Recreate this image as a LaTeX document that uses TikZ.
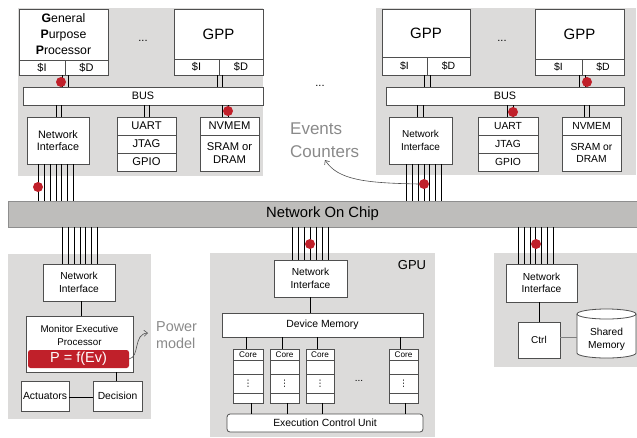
\documentclass[tikz,border=0pt]{standalone}
\usepackage{fontspec}
\setmainfont{Liberation Sans}
\newfontfamily\dejavu{DejaVu Sans}
\usetikzlibrary{fit,arrows.meta}
\definecolor{panelgray}{HTML}{DCDBDA}
\definecolor{nocgray}{HTML}{BEBDBB}
\definecolor{nocedge}{HTML}{8E8E8E}
\definecolor{edgegray}{HTML}{4F4F4F}
\definecolor{dotred}{HTML}{C0202A}
\definecolor{labelgray}{HTML}{8A8A8A}
\newcommand\fs[2]{\fontsize{#1}{#2}\selectfont}
\newcommand\bx[7][]{\node[box,minimum width={#5pt-#3pt},minimum height={#6pt-#4pt},#1] (#2) at ({(#3+#5)/2},{(#4+#6)/2}) {#7};}
\newcommand\vw[3]{\draw[wire] (#1,0 |- #2) -- (#1,0 |- #3);}
\tikzset{
  panel/.style={fill=panelgray, draw=none, inner sep=0pt, outer sep=0pt},
  box/.style={draw=edgegray, fill=white, line width=0.8pt, inner sep=0pt, outer sep=0pt, align=center, font=\fs{10.5}{12.5}},
  dotmark/.style={circle, fill=dotred, inner sep=0pt, minimum size=10pt},
  wire/.style={line width=0.8pt, black},
  graylabel/.style={text=labelgray, align=left, anchor=west, inner sep=0pt},
  curvearrow/.style={line width=0.6pt, edgegray, -{Straight Barb[length=3.5pt,width=6pt]}},
}
\begin{document}
\begin{tikzpicture}[x=1pt,y=-1pt]
\useasboundingbox (0,0) rectangle (637,437);
% panels
\node[panel, fit={(18,8)(263,176)}] (p1) {};
\node[panel, fit={(376,8)(636,175)}] (p2) {};
\node[panel, fit={(8,254)(151,419)}] (p3) {};
\node[panel, fit={(210,253)(435,437)}] (p4) {};
\node[panel, fit={(494,253)(637,367)}] (p5) {};
% ---------- top-left cluster
\bx[font=\fs{12.3}{16}]{gpp1}{19}{9}{108}{60}{\textbf{G}eneral\\\textbf{P}urpose\\\textbf{P}rocessor}
\bx[font=\fs{11}{13}]{c1i}{19}{60}{65}{75}{\$I}
\bx[font=\fs{11}{13}]{c1d}{65}{60}{108}{75}{\$D}
\bx[font=\fs{15}{17}]{gpp2}{174}{9}{263}{59}{GPP}
\bx[font=\fs{11}{13}]{c2i}{174}{59}{219}{75}{\$I}
\bx[font=\fs{11}{13}]{c2d}{219}{59}{263}{75}{\$D}
\node[font=\fs{11}{13}] (dots1) at (143,41) {...};
\bx[font=\fs{10.8}{13}]{bus1}{23}{87}{263}{105}{BUS}
\bx[font=\fs{10.8}{12.5}]{ni1}{27}{117}{89}{164}{Network\\Interface}
\bx[font=\fs{11.2}{13}]{uart1}{117}{117}{176}{135}{UART}
\bx[font=\fs{11.2}{13}]{jtag1}{117}{135}{176}{153}{JTAG}
\bx[font=\fs{11.2}{13}]{gpio1}{117}{153}{176}{171}{GPIO}
\bx[font=\fs{11.2}{13}]{nvm1}{200}{117}{259}{135}{NVMEM}
\bx[font=\fs{11.2}{12.5}]{sram1}{200}{135}{259}{171}{SRAM or\\DRAM}
\vw{62}{c1i.south}{bus1.north}
\vw{68}{c1d.south}{bus1.north}
\vw{217}{c2i.south}{bus1.north}
\vw{222}{c2d.south}{bus1.north}
\vw{56}{bus1.south}{ni1.north}
\vw{61}{bus1.south}{ni1.north}
\vw{144}{bus1.south}{uart1.north}
\vw{149}{bus1.south}{uart1.north}
\vw{222}{bus1.south}{nvm1.north}
\vw{228}{bus1.south}{nvm1.north}
% ---------- top-right cluster
\bx[font=\fs{15}{17}]{gpp3}{382}{9}{470}{57}{GPP}
\bx[font=\fs{10.5}{13}]{c3i}{382}{57}{427}{75}{\$I}
\bx[font=\fs{10.5}{13}]{c3d}{427}{57}{470}{75}{\$D}
\bx[font=\fs{15}{17}]{gpp4}{535}{9}{624}{59}{GPP}
\bx[font=\fs{10.5}{13}]{c4i}{535}{59}{582}{75}{\$I}
\bx[font=\fs{10.5}{13}]{c4d}{582}{59}{624}{75}{\$D}
\node[font=\fs{11}{13}] (dots2) at (502,41) {...};
\bx[font=\fs{10.8}{13}]{bus2}{386}{87}{624}{105}{BUS}
\bx[font=\fs{10}{12.5}]{ni2}{389}{117}{452}{164}{Network\\Interface}
\bx[font=\fs{10.3}{13}]{uart2}{478}{117}{538}{135}{UART}
\bx[font=\fs{10.3}{13}]{jtag2}{478}{135}{538}{153}{JTAG}
\bx[font=\fs{10.3}{13}]{gpio2}{478}{153}{538}{171}{GPIO}
\bx[font=\fs{10.3}{13}]{nvm2}{562}{117}{621}{135}{NVMEM}
\bx[font=\fs{10.3}{12.5}]{sram2}{562}{135}{621}{171}{SRAM or\\DRAM}
\vw{424}{c3i.south}{bus2.north}
\vw{430}{c3d.south}{bus2.north}
\vw{579}{c4d.south}{bus2.north}
\vw{585}{c4d.south}{bus2.north}
\vw{417}{bus2.south}{ni2.north}
\vw{423}{bus2.south}{ni2.north}
\vw{507}{bus2.south}{uart2.north}
\vw{513}{bus2.south}{uart2.north}
\vw{584}{bus2.south}{nvm2.north}
\vw{589}{bus2.south}{nvm2.north}
\node[font=\fs{11}{13}] (dots3) at (320,86) {...};
% ---------- network on chip
\bx[fill=nocgray, draw=nocedge, font=\fs{14.8}{16}]{noc}{8}{201}{637}{227}{Network On Chip}
\foreach \x in {38,44,50,56,61,67,73} {\vw{\x}{ni1.south}{noc.north}}
\foreach \x in {406,412,418,424,429,435,441} {\vw{\x}{ni2.south}{noc.north}}
% ---------- bottom-left: monitor
\bx[font=\fs{10.2}{12.5}]{ni3}{43}{264}{115}{301}{Network\\Interface}
\bx{mep}{26}{316}{133}{372}{}
\node[font=\fs{9.8}{13}, align=center] (meptxt) at (79.5,335) {Monitor Executive\\Processor};
\bx[fill=dotred, draw=none, rounded corners=2.5pt, text=white, font=\fs{14.5}{16}]{pf}{28}{350}{129}{368}{P = f(Ev)}
\bx[font=\fs{10.4}{12}]{act}{21}{381}{69}{411}{Actuators}
\bx[font=\fs{10.3}{12}]{dec}{93}{381}{142}{411}{Decision}
\foreach \x in {62,68,74,80,85,91,97} {\vw{\x}{noc.south}{ni3.north}}
\vw{81}{ni3.south}{mep.north}
\vw{116}{mep.south}{dec.north}
\draw[wire] (act.east |- 0,397) -- (dec.west |- 0,397);
\node[graylabel, font=\fs{14.4}{17}] (pm) at (156,335.5) {Power\\model};
\coordinate (pmtip) at (148,333);
\draw[curvearrow] (pf.east) .. controls (140,357) and (133,334) .. (pmtip);
% ---------- GPU
\bx[font=\fs{10.2}{12.5}]{ni4}{274}{260}{347}{297}{Network\\Interface}
\node[font=\fs{13}{15}] (gpul) at (412,265) {GPU};
\foreach \x in {292,298,304,310,316,322,328} {\vw{\x}{noc.south}{ni4.north}}
\bx[font=\fs{10.4}{12}]{devmem}{222}{313}{423}{337}{Device Memory}
\vw{310}{ni4.south}{devmem.north}
\foreach \n/\l/\r/\xa/\xb in {1/233/263/246/251, 2/270/299/282/287, 3/306/334/317/322, 4/389/418/400/405} {
  \bx[font=\fs{8.2}{10}]{k\n-a}{\l}{349}{\r}{360}{Core}
  \bx{k\n-b}{\l}{360}{\r}{374}{}
  \bx[font=\dejavu\fs{9}{10}]{k\n-c}{\l}{374}{\r}{393}{⋮}
  \bx{k\n-d}{\l}{393}{\r}{403}{}
  \vw{\xa}{devmem.south}{k\n-a.north}
}
\node[font=\fs{10}{12}] (dots4) at (359,381) {...};
\bx[rounded corners=3pt, font=\fs{10.4}{12}]{ecu}{227}{414}{423}{432}{Execution Control Unit}
\vw{251}{k1-d.south}{ecu.north}
\vw{287}{k2-d.south}{ecu.north}
\vw{322}{k3-d.south}{ecu.north}
\vw{405}{k4-d.south}{ecu.north}
% ---------- shared memory
\bx[font=\fs{10.2}{12.5}]{ni5}{506}{264}{577}{302}{Network\\Interface}
\foreach \x in {518,524,530,535,541,547,553} {\vw{\x}{noc.south}{ni5.north}}
\bx[font=\fs{10}{12}]{ctrl}{518}{322}{560}{358}{Ctrl}
\vw{539}{ni5.south}{ctrl.north}
\filldraw[fill=white, draw=edgegray, line width=0.8pt] (577,314) -- (577,353) arc[start angle=180, end angle=360, x radius=29.5pt, y radius=5pt] -- (636,314) arc[start angle=0, end angle=180, x radius=29.5pt, y radius=5pt] -- cycle;
\draw[edgegray, line width=0.8pt] (577,314) arc[start angle=180, end angle=360, x radius=29.5pt, y radius=5pt];
\bx[draw=none, fill=none, font=\fs{10.2}{13}]{shm}{577}{315}{636}{364}{Shared\\Memory}
\draw[line width=1pt, gray] (ctrl.east |- 0,337) -- (shm.west |- 0,337);
% ---------- events counters
\node[graylabel, font=\fs{17}{23}] (ev) at (290,140) {Events\\Counters};
% ---------- probes (red dots)
\node[dotmark] (d1) at (61,82) {};
\node[dotmark] (d2) at (228,111) {};
\node[dotmark] (d3) at (38,187) {};
\node[dotmark] (d4) at (587,82) {};
\node[dotmark] (d5) at (513,112) {};
\node[dotmark] (d6) at (424,184) {};
\node[dotmark] (d7) at (310,244) {};
\node[dotmark] (d8) at (536,244) {};
\coordinate (evtip) at (325,160);
\draw[curvearrow] (d6.west) .. controls (365,183) and (338,180) .. (evtip);
\end{tikzpicture}
\end{document}
